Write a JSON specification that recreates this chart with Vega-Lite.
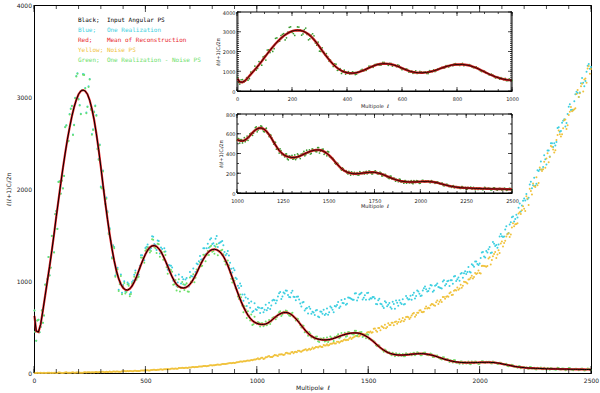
{
"$schema":"https://vega.github.io/schema/vega-lite/v6.json",
"width":557,"height":368,
"autosize":{"type":"none"},
"padding":{"left":34,"top":5,"right":9,"bottom":20},
"background":"white",
"config":{"view":{"stroke":"black","strokeWidth":1},"font":"DejaVu Sans",
"axis":{"labelFont":"DejaVu Sans","labelFontSize":6,"labelColor":"#222","titleFont":"DejaVu Sans","titleFontSize":6,"titleFontWeight":"normal","titleColor":"#222","domainColor":"black","grid":false,"zindex":1,"labelFlush":false,"labelOverlap":false,"format":"d","ticks":false}},
"datasets":{
"t50":[{"t":0},{"t":50},{"t":100},{"t":150},{"t":200},{"t":250},{"t":300},{"t":350},{"t":400},{"t":450},{"t":500},{"t":550},{"t":600},{"t":650},{"t":700},{"t":750},{"t":800},{"t":850},{"t":900},{"t":950},{"t":1000},{"t":1050},{"t":1100},{"t":1150},{"t":1200},{"t":1250},{"t":1300},{"t":1350},{"t":1400},{"t":1450},{"t":1500},{"t":1550},{"t":1600},{"t":1650},{"t":1700},{"t":1750},{"t":1800},{"t":1850},{"t":1900},{"t":1950},{"t":2000},{"t":2050},{"t":2100},{"t":2150},{"t":2200},{"t":2250},{"t":2300},{"t":2350},{"t":2400},{"t":2450},{"t":2500}],
"t100":[{"t":0},{"t":100},{"t":200},{"t":300},{"t":400},{"t":500},{"t":600},{"t":700},{"t":800},{"t":900},{"t":1000},{"t":1100},{"t":1200},{"t":1300},{"t":1400},{"t":1500},{"t":1600},{"t":1700},{"t":1800},{"t":1900},{"t":2000},{"t":2100},{"t":2200},{"t":2300},{"t":2400},{"t":2500},{"t":2600},{"t":2700},{"t":2800},{"t":2900},{"t":3000},{"t":3100},{"t":3200},{"t":3300},{"t":3400},{"t":3500},{"t":3600},{"t":3700},{"t":3800},{"t":3900},{"t":4000}],
"ps":[
{"l":2,"b":620,"c":680,"g":680,"n":2},{"l":10,"b":455,"c":350,"g":350,"n":0},{"l":20,"b":445,"c":580,"g":580,"n":1},{"l":30,"b":530,"c":501,"g":500,"n":3},{"l":40,"b":680,"c":546,"g":545,"n":0},{"l":50,"b":840,"c":961,"g":960,"n":0},{"l":60,"b":1000,"c":1021,"g":1020,"n":4},{"l":70,"b":1160,"c":1062,"g":1060,"n":2},{"l":80,"b":1330,"c":1492,"g":1490,"n":4},{"l":90,"b":1510,"c":1312,"g":1310,"n":3},
{"l":100,"b":1700,"c":1762,"g":1760,"n":0},{"l":110,"b":1880,"c":2078,"g":2076,"n":5},{"l":120,"b":2060,"c":1951,"g":1948,"n":2},{"l":130,"b":2230,"c":2009,"g":2006,"n":0},{"l":140,"b":2390,"c":2673,"g":2670,"n":5},{"l":150,"b":2540,"c":2516,"g":2512,"n":4},{"l":160,"b":2670,"c":2814,"g":2810,"n":3},{"l":170,"b":2790,"c":2906,"g":2902,"n":6},{"l":180,"b":2890,"c":2699,"g":2694,"n":2},{"l":190,"b":2970,"c":3227,"g":3222,"n":6},
{"l":200,"b":3030,"c":2979,"g":2974,"n":7},{"l":210,"b":3065,"c":2818,"g":2813,"n":4},{"l":220,"b":3075,"c":3249,"g":3243,"n":4},{"l":230,"b":3065,"c":3099,"g":3093,"n":9},{"l":240,"b":3030,"c":2897,"g":2890,"n":7},{"l":250,"b":2965,"c":3196,"g":3189,"n":9},{"l":260,"b":2870,"c":2598,"g":2590,"n":9},{"l":270,"b":2750,"c":2842,"g":2834,"n":6},{"l":280,"b":2600,"c":2805,"g":2796,"n":12},{"l":290,"b":2430,"c":2327,"g":2318,"n":8},
{"l":300,"b":2240,"c":2026,"g":2016,"n":7},{"l":310,"b":2040,"c":2201,"g":2190,"n":13},{"l":320,"b":1850,"c":1846,"g":1835,"n":11},{"l":330,"b":1670,"c":1757,"g":1745,"n":10},{"l":340,"b":1500,"c":1573,"g":1560,"n":15},{"l":350,"b":1350,"c":1258,"g":1245,"n":10},{"l":360,"b":1220,"c":1369,"g":1355,"n":15},{"l":370,"b":1110,"c":1095,"g":1080,"n":17},{"l":380,"b":1025,"c":905,"g":890,"n":14},{"l":390,"b":965,"c":1071,"g":1055,"n":14},
{"l":400,"b":925,"c":957,"g":940,"n":20},{"l":410,"b":905,"c":883,"g":865,"n":18},{"l":420,"b":902,"c":985,"g":966,"n":21},{"l":430,"b":915,"c":855,"g":835,"n":21},{"l":440,"b":945,"c":990,"g":969,"n":19},{"l":450,"b":990,"c":1068,"g":1046,"n":25},{"l":460,"b":1045,"c":1036,"g":1013,"n":22},{"l":470,"b":1110,"c":1070,"g":1046,"n":21},{"l":480,"b":1175,"c":1280,"g":1255,"n":27},{"l":490,"b":1235,"c":1253,"g":1227,"n":26},
{"l":500,"b":1290,"c":1358,"g":1330,"n":26},{"l":510,"b":1335,"c":1396,"g":1367,"n":31},{"l":520,"b":1365,"c":1339,"g":1309,"n":27},{"l":530,"b":1382,"c":1486,"g":1454,"n":33},{"l":540,"b":1385,"c":1402,"g":1369,"n":35},{"l":550,"b":1375,"c":1337,"g":1303,"n":33},{"l":560,"b":1352,"c":1436,"g":1400,"n":34},{"l":570,"b":1318,"c":1363,"g":1326,"n":40},{"l":580,"b":1272,"c":1271,"g":1232,"n":39},{"l":590,"b":1218,"c":1322,"g":1282,"n":42},
{"l":600,"b":1160,"c":1122,"g":1080,"n":43},{"l":610,"b":1100,"c":1168,"g":1124,"n":42},{"l":620,"b":1045,"c":1146,"g":1101,"n":48},{"l":630,"b":998,"c":1013,"g":966,"n":46},{"l":640,"b":962,"c":947,"g":898,"n":46},{"l":650,"b":940,"c":1071,"g":1020,"n":53},{"l":660,"b":928,"c":973,"g":920,"n":53},{"l":670,"b":924,"c":1019,"g":964,"n":54},{"l":680,"b":928,"c":1016,"g":960,"n":58},{"l":690,"b":942,"c":944,"g":886,"n":55},
{"l":700,"b":965,"c":1097,"g":1037,"n":61},{"l":710,"b":998,"c":1048,"g":986,"n":64},{"l":720,"b":1040,"c":1050,"g":986,"n":63},{"l":730,"b":1088,"c":1190,"g":1124,"n":64},{"l":740,"b":1140,"c":1215,"g":1146,"n":72},{"l":750,"b":1190,"c":1231,"g":1160,"n":71},{"l":760,"b":1236,"c":1357,"g":1284,"n":75},{"l":770,"b":1276,"c":1292,"g":1216,"n":77},{"l":780,"b":1308,"c":1404,"g":1326,"n":76},{"l":790,"b":1330,"c":1452,"g":1372,"n":83},
{"l":800,"b":1342,"c":1401,"g":1318,"n":82},{"l":810,"b":1345,"c":1383,"g":1297,"n":83},{"l":820,"b":1340,"c":1488,"g":1400,"n":90},{"l":830,"b":1326,"c":1411,"g":1320,"n":91},{"l":840,"b":1302,"c":1426,"g":1332,"n":92},{"l":850,"b":1268,"c":1389,"g":1292,"n":99},{"l":860,"b":1222,"c":1280,"g":1180,"n":97},{"l":870,"b":1168,"c":1325,"g":1222,"n":104},{"l":880,"b":1105,"c":1199,"g":1093,"n":108},{"l":890,"b":1038,"c":1093,"g":984,"n":108},
{"l":900,"b":968,"c":1116,"g":1004,"n":110},{"l":910,"b":900,"c":1021,"g":906,"n":118},{"l":920,"b":835,"c":924,"g":805,"n":119},{"l":930,"b":775,"c":945,"g":823,"n":124},{"l":940,"b":720,"c":786,"g":660,"n":127},{"l":950,"b":672,"c":820,"g":690,"n":128},{"l":960,"b":630,"c":806,"g":672,"n":137},{"l":970,"b":596,"c":710,"g":572,"n":137},{"l":980,"b":570,"c":664,"g":522,"n":139},{"l":990,"b":552,"c":758,"g":612,"n":148},
{"l":1000,"b":540,"c":684,"g":534,"n":151},{"l":1010,"b":532,"c":708,"g":547,"n":149},{"l":1020,"b":528,"c":705,"g":540,"n":167},{"l":1030,"b":528,"c":659,"g":507,"n":153},{"l":1040,"b":533,"c":741,"g":560,"n":171},{"l":1050,"b":544,"c":707,"g":538,"n":179},{"l":1060,"b":560,"c":697,"g":533,"n":173},{"l":1070,"b":580,"c":788,"g":598,"n":173},{"l":1080,"b":601,"c":792,"g":604,"n":196},{"l":1090,"b":621,"c":789,"g":606,"n":189},
{"l":1100,"b":637,"c":868,"g":661,"n":200},{"l":1110,"b":649,"c":803,"g":619,"n":203},{"l":1120,"b":656,"c":874,"g":665,"n":197},{"l":1130,"b":658,"c":898,"g":679,"n":217},{"l":1140,"b":654,"c":849,"g":642,"n":211},{"l":1150,"b":643,"c":824,"g":619,"n":208},{"l":1160,"b":626,"c":893,"g":656,"n":228},{"l":1170,"b":604,"c":826,"g":601,"n":227},{"l":1180,"b":577,"c":830,"g":592,"n":226},{"l":1190,"b":547,"c":800,"g":559,"n":243},
{"l":1200,"b":516,"c":724,"g":495,"n":230},{"l":1210,"b":486,"c":771,"g":513,"n":248},{"l":1220,"b":457,"c":698,"g":451,"n":257},{"l":1230,"b":431,"c":647,"g":404,"n":252},{"l":1240,"b":410,"c":698,"g":428,"n":253},{"l":1250,"b":394,"c":666,"g":397,"n":277},{"l":1260,"b":381,"c":631,"g":366,"n":271},{"l":1270,"b":372,"c":686,"g":396,"n":283},{"l":1280,"b":366,"c":605,"g":336,"n":288},{"l":1290,"b":362,"c":665,"g":371,"n":282},
{"l":1300,"b":360,"c":687,"g":381,"n":304},{"l":1310,"b":360,"c":643,"g":348,"n":299},{"l":1320,"b":362,"c":633,"g":338,"n":298},{"l":1330,"b":366,"c":724,"g":396,"n":319},{"l":1340,"b":372,"c":688,"g":369,"n":321},{"l":1350,"b":380,"c":728,"g":395,"n":321},{"l":1360,"b":389,"c":740,"g":401,"n":341},{"l":1370,"b":398,"c":706,"g":377,"n":330},{"l":1380,"b":407,"c":793,"g":434,"n":349},{"l":1390,"b":415,"c":759,"g":409,"n":360},
{"l":1400,"b":422,"c":742,"g":395,"n":356},{"l":1410,"b":428,"c":822,"g":446,"n":359},{"l":1420,"b":432,"c":812,"g":435,"n":385},{"l":1430,"b":435,"c":796,"g":420,"n":382},{"l":1440,"b":436,"c":863,"g":460,"n":396},{"l":1450,"b":435,"c":789,"g":405,"n":403},{"l":1460,"b":431,"c":852,"g":440,"n":400},{"l":1470,"b":424,"c":871,"g":445,"n":424},{"l":1480,"b":414,"c":819,"g":402,"n":421},{"l":1490,"b":401,"c":796,"g":377,"n":422},
{"l":1500,"b":386,"c":871,"g":416,"n":446},{"l":1510,"b":368,"c":812,"g":366,"n":450},{"l":1520,"b":348,"c":826,"g":357,"n":444},{"l":1530,"b":327,"c":810,"g":334,"n":485},{"l":1540,"b":305,"c":746,"g":292,"n":448},{"l":1550,"b":284,"c":806,"g":300,"n":490},{"l":1560,"b":265,"c":746,"g":261,"n":508},{"l":1570,"b":248,"c":707,"g":232,"n":489},{"l":1580,"b":233,"c":767,"g":244,"n":487},{"l":1590,"b":221,"c":742,"g":223,"n":541},
{"l":1600,"b":212,"c":715,"g":203,"n":523},{"l":1610,"b":205,"c":775,"g":219,"n":546},{"l":1620,"b":200,"c":699,"g":182,"n":554},{"l":1630,"b":197,"c":764,"g":202,"n":535},{"l":1640,"b":195,"c":790,"g":208,"n":585},{"l":1650,"b":195,"c":750,"g":188,"n":568},{"l":1660,"b":196,"c":744,"g":182,"n":562},{"l":1670,"b":198,"c":837,"g":216,"n":609},{"l":1680,"b":200,"c":800,"g":198,"n":606},{"l":1690,"b":203,"c":839,"g":212,"n":602},
{"l":1700,"b":205,"c":848,"g":212,"n":645},{"l":1710,"b":207,"c":811,"g":194,"n":611},{"l":1720,"b":209,"c":897,"g":225,"n":656},{"l":1730,"b":210,"c":861,"g":206,"n":678},{"l":1740,"b":210,"c":842,"g":194,"n":662},{"l":1750,"b":209,"c":921,"g":220,"n":665},{"l":1760,"b":206,"c":909,"g":208,"n":723},{"l":1770,"b":202,"c":891,"g":193,"n":709},{"l":1780,"b":197,"c":957,"g":211,"n":736},{"l":1790,"b":191,"c":883,"g":173,"n":747},
{"l":1800,"b":184,"c":948,"g":189,"n":732},{"l":1810,"b":176,"c":973,"g":189,"n":787},{"l":1820,"b":168,"c":930,"g":161,"n":775},{"l":1830,"b":160,"c":919,"g":146,"n":773},{"l":1840,"b":152,"c":1007,"g":170,"n":825},{"l":1850,"b":145,"c":967,"g":143,"n":828},{"l":1860,"b":138,"c":1002,"g":147,"n":830},{"l":1870,"b":132,"c":1009,"g":139,"n":879},{"l":1880,"b":127,"c":971,"g":114,"n":851},{"l":1890,"b":122,"c":1055,"g":138,"n":901},
{"l":1900,"b":119,"c":1020,"g":115,"n":928},{"l":1910,"b":116,"c":1004,"g":100,"n":918},{"l":1920,"b":114,"c":1088,"g":125,"n":927},{"l":1930,"b":113,"c":1084,"g":115,"n":991},{"l":1940,"b":112,"c":1075,"g":103,"n":983},{"l":1950,"b":112,"c":1153,"g":126,"n":1017},{"l":1960,"b":112,"c":1092,"g":94,"n":1035},{"l":1970,"b":112,"c":1171,"g":117,"n":1027},{"l":1980,"b":113,"c":1211,"g":126,"n":1088},{"l":1990,"b":114,"c":1184,"g":107,"n":1083},
{"l":2000,"b":115,"c":1189,"g":101,"n":1088},{"l":2010,"b":116,"c":1309,"g":128,"n":1163},{"l":2020,"b":116,"c":1267,"g":115,"n":1162},{"l":2030,"b":116,"c":1327,"g":122,"n":1156},{"l":2040,"b":116,"c":1345,"g":121,"n":1245},{"l":2050,"b":115,"c":1303,"g":107,"n":1180},{"l":2060,"b":114,"c":1423,"g":125,"n":1270},{"l":2070,"b":112,"c":1381,"g":110,"n":1316},{"l":2080,"b":109,"c":1362,"g":98,"n":1287},{"l":2090,"b":105,"c":1484,"g":112,"n":1303},
{"l":2100,"b":100,"c":1486,"g":101,"n":1430},{"l":2110,"b":95,"c":1483,"g":89,"n":1413},{"l":2120,"b":90,"c":1596,"g":100,"n":1483},{"l":2130,"b":85,"c":1523,"g":73,"n":1518},{"l":2140,"b":80,"c":1638,"g":84,"n":1505},{"l":2150,"b":75,"c":1700,"g":83,"n":1628},{"l":2160,"b":71,"c":1674,"g":66,"n":1617},{"l":2170,"b":67,"c":1691,"g":57,"n":1627},{"l":2180,"b":64,"c":1842,"g":76,"n":1748},{"l":2190,"b":61,"c":1820,"g":60,"n":1770},
{"l":2200,"b":58,"c":1898,"g":64,"n":1785},{"l":2210,"b":56,"c":1946,"g":61,"n":1922},{"l":2220,"b":54,"c":1904,"g":46,"n":1826},{"l":2230,"b":53,"c":2080,"g":64,"n":1979},{"l":2240,"b":52,"c":2041,"g":50,"n":2061},{"l":2250,"b":51,"c":2034,"g":40,"n":2023},{"l":2260,"b":50,"c":2203,"g":57,"n":2041},{"l":2270,"b":49,"c":2212,"g":50,"n":2235},{"l":2280,"b":48,"c":2213,"g":42,"n":2197},{"l":2290,"b":47,"c":2366,"g":57,"n":2295},
{"l":2300,"b":46,"c":2266,"g":34,"n":2332},{"l":2310,"b":46,"c":2418,"g":50,"n":2292},{"l":2320,"b":45,"c":2497,"g":53,"n":2468},{"l":2330,"b":45,"c":2457,"g":40,"n":2428},{"l":2340,"b":44,"c":2472,"g":34,"n":2420},{"l":2350,"b":44,"c":2664,"g":56,"n":2588},{"l":2360,"b":43,"c":2623,"g":42,"n":2596},{"l":2370,"b":43,"c":2719,"g":49,"n":2596},{"l":2380,"b":42,"c":2758,"g":47,"n":2748},{"l":2390,"b":42,"c":2718,"g":34,"n":2652},
{"l":2400,"b":42,"c":2894,"g":53,"n":2804},{"l":2410,"b":41,"c":2859,"g":39,"n":2890},{"l":2420,"b":41,"c":2857,"g":30,"n":2856},{"l":2430,"b":40,"c":3030,"g":47,"n":2878},{"l":2440,"b":40,"c":3044,"g":41,"n":3076},{"l":2450,"b":40,"c":3050,"g":34,"n":3042},{"l":2460,"b":39,"c":3207,"g":49,"n":3144},{"l":2470,"b":39,"c":3117,"g":27,"n":3190},{"l":2480,"b":38,"c":3274,"g":42,"n":3156},{"l":2490,"b":38,"c":3360,"g":46,"n":3338},
{"l":2500,"b":37,"c":3325,"g":32,"n":3304},
{"l":5,"c":448,"g":448,"n":1},{"l":15,"c":570,"g":570,"n":3},{"l":25,"c":444,"g":443,"n":0},{"l":35,"c":681,"g":680,"n":1},{"l":45,"c":626,"g":625,"n":3},{"l":55,"c":961,"g":960,"n":0},{"l":65,"c":1262,"g":1260,"n":3},{"l":75,"c":1147,"g":1145,"n":1},{"l":85,"c":1422,"g":1420,"n":0},{"l":95,"c":1727,"g":1725,"n":4},
{"l":105,"c":1568,"g":1566,"n":1},{"l":115,"c":2085,"g":2082,"n":5},{"l":125,"c":2092,"g":2089,"n":0},{"l":135,"c":2145,"g":2142,"n":4},{"l":145,"c":2693,"g":2689,"n":7},{"l":155,"c":2525,"g":2521,"n":3},{"l":165,"c":2874,"g":2870,"n":4},{"l":175,"c":2593,"g":2588,"n":7},{"l":185,"c":2991,"g":2986,"n":3},{"l":195,"c":3257,"g":3252,"n":6},
{"l":205,"c":2913,"g":2908,"n":4},{"l":215,"c":3076,"g":3070,"n":4},{"l":225,"c":3244,"g":3238,"n":8},{"l":235,"c":2831,"g":2824,"n":6},{"l":245,"c":3117,"g":3110,"n":9},{"l":255,"c":2870,"g":2862,"n":5},{"l":265,"c":2650,"g":2642,"n":9},{"l":275,"c":2908,"g":2899,"n":12},{"l":285,"c":2440,"g":2431,"n":8},{"l":295,"c":2485,"g":2475,"n":10},
{"l":305,"c":2016,"g":2005,"n":13},{"l":315,"c":1986,"g":1975,"n":9},{"l":325,"c":1907,"g":1895,"n":13},{"l":335,"c":1523,"g":1510,"n":12},{"l":345,"c":1438,"g":1425,"n":11},{"l":355,"c":1389,"g":1375,"n":16},{"l":365,"c":1060,"g":1045,"n":14},{"l":375,"c":1143,"g":1128,"n":17},{"l":385,"c":981,"g":965,"n":13},{"l":395,"c":872,"g":855,"n":18},
{"l":405,"c":997,"g":979,"n":21},{"l":415,"c":899,"g":880,"n":18},{"l":425,"c":968,"g":948,"n":20},{"l":435,"c":879,"g":858,"n":23},{"l":445,"c":1006,"g":984,"n":20},{"l":455,"c":1113,"g":1090,"n":24},{"l":465,"c":1062,"g":1038,"n":23},{"l":475,"c":1167,"g":1142,"n":23},{"l":485,"c":1279,"g":1253,"n":28},{"l":495,"c":1225,"g":1198,"n":26},
{"l":505,"c":1373,"g":1344,"n":30},{"l":515,"c":1364,"g":1334,"n":27},{"l":525,"c":1357,"g":1326,"n":32},{"l":535,"c":1481,"g":1448,"n":36},{"l":545,"c":1390,"g":1356,"n":32},{"l":555,"c":1439,"g":1404,"n":35},{"l":565,"c":1300,"g":1263,"n":39},{"l":575,"c":1349,"g":1311,"n":36},{"l":585,"c":1357,"g":1317,"n":41},{"l":595,"c":1190,"g":1149,"n":40},
{"l":605,"c":1173,"g":1130,"n":41},{"l":615,"c":1165,"g":1120,"n":47},{"l":625,"c":1004,"g":958,"n":45},{"l":635,"c":1060,"g":1012,"n":50},{"l":645,"c":985,"g":935,"n":47},{"l":655,"c":938,"g":886,"n":53},{"l":665,"c":1044,"g":990,"n":57},{"l":675,"c":958,"g":902,"n":55},{"l":685,"c":1032,"g":975,"n":57},{"l":695,"c":941,"g":882,"n":61},
{"l":705,"c":1055,"g":994,"n":59},{"l":715,"c":1136,"g":1073,"n":64},{"l":725,"c":1099,"g":1034,"n":64},{"l":735,"c":1182,"g":1114,"n":66},{"l":745,"c":1271,"g":1201,"n":72},{"l":755,"c":1237,"g":1165,"n":71},{"l":765,"c":1355,"g":1280,"n":77},{"l":775,"c":1357,"g":1280,"n":74},{"l":785,"c":1362,"g":1283,"n":80},{"l":795,"c":1466,"g":1384,"n":85},
{"l":805,"c":1411,"g":1326,"n":83},{"l":815,"c":1460,"g":1373,"n":87},{"l":825,"c":1369,"g":1279,"n":92},{"l":835,"c":1419,"g":1326,"n":91},{"l":845,"c":1435,"g":1339,"n":97},{"l":855,"c":1314,"g":1215,"n":98},{"l":865,"c":1297,"g":1195,"n":100},{"l":875,"c":1277,"g":1172,"n":107},{"l":885,"c":1132,"g":1024,"n":107},{"l":895,"c":1138,"g":1027,"n":112},
{"l":905,"c":1036,"g":922,"n":111},{"l":915,"c":949,"g":832,"n":118},{"l":925,"c":974,"g":853,"n":124},{"l":935,"c":854,"g":730,"n":122},{"l":945,"c":854,"g":726,"n":128},{"l":955,"c":729,"g":597,"n":134},{"l":965,"c":761,"g":625,"n":134},{"l":975,"c":777,"g":637,"n":141},{"l":985,"c":675,"g":531,"n":143},{"l":995,"c":694,"g":546,"n":146},
{"l":1005,"c":715,"g":554,"n":160},{"l":1015,"c":651,"g":506,"n":154},{"l":1025,"c":707,"g":540,"n":166},{"l":1035,"c":687,"g":524,"n":157},{"l":1045,"c":681,"g":520,"n":172},{"l":1055,"c":763,"g":576,"n":184},{"l":1065,"c":735,"g":561,"n":174},{"l":1075,"c":796,"g":605,"n":184},{"l":1085,"c":759,"g":584,"n":194},{"l":1095,"c":831,"g":635,"n":185},
{"l":1105,"c":880,"g":670,"n":201},{"l":1115,"c":832,"g":637,"n":200},{"l":1125,"c":863,"g":657,"n":200},{"l":1135,"c":894,"g":674,"n":219},{"l":1145,"c":827,"g":624,"n":212},{"l":1155,"c":872,"g":646,"n":225},{"l":1165,"c":830,"g":609,"n":215},{"l":1175,"c":792,"g":572,"n":231},{"l":1185,"c":831,"g":586,"n":242},{"l":1195,"c":755,"g":522,"n":233},
{"l":1205,"c":766,"g":516,"n":243},{"l":1215,"c":679,"g":444,"n":254},{"l":1225,"c":706,"g":450,"n":245},{"l":1235,"c":719,"g":447,"n":263},{"l":1245,"c":644,"g":387,"n":262},{"l":1255,"c":657,"g":387,"n":264},{"l":1265,"c":678,"g":394,"n":283},{"l":1275,"c":614,"g":345,"n":278},{"l":1285,"c":669,"g":376,"n":292},{"l":1295,"c":644,"g":355,"n":283},
{"l":1305,"c":631,"g":342,"n":300},{"l":1315,"c":701,"g":385,"n":313},{"l":1325,"c":660,"g":355,"n":305},{"l":1335,"c":708,"g":384,"n":317},{"l":1345,"c":659,"g":349,"n":329},{"l":1355,"c":724,"g":391,"n":322},{"l":1365,"c":771,"g":421,"n":341},{"l":1375,"c":724,"g":388,"n":341},{"l":1385,"c":761,"g":411,"n":344},{"l":1395,"c":803,"g":437,"n":365},
{"l":1405,"c":753,"g":401,"n":361},{"l":1415,"c":819,"g":442,"n":376},{"l":1425,"c":804,"g":428,"n":370},{"l":1435,"c":796,"g":418,"n":389},{"l":1445,"c":867,"g":460,"n":404},{"l":1455,"c":822,"g":424,"n":398},{"l":1465,"c":861,"g":443,"n":411},{"l":1475,"c":798,"g":392,"n":425},{"l":1485,"c":844,"g":414,"n":419},{"l":1495,"c":870,"g":421,"n":440},
{"l":1505,"c":799,"g":368,"n":439},{"l":1515,"c":810,"g":358,"n":437},{"l":1525,"c":826,"g":349,"n":481},{"l":1535,"c":749,"g":302,"n":461},{"l":1545,"c":791,"g":302,"n":490},{"l":1555,"c":752,"g":271,"n":464},{"l":1565,"c":725,"g":246,"n":500},{"l":1575,"c":780,"g":255,"n":525},{"l":1585,"c":725,"g":222,"n":500},{"l":1595,"c":760,"g":226,"n":521},
{"l":1605,"c":699,"g":193,"n":545},{"l":1615,"c":751,"g":207,"n":519},{"l":1625,"c":788,"g":215,"n":559},{"l":1635,"c":732,"g":187,"n":553},{"l":1645,"c":763,"g":195,"n":553},{"l":1655,"c":802,"g":207,"n":599},{"l":1665,"c":750,"g":183,"n":581},{"l":1675,"c":816,"g":206,"n":611},{"l":1685,"c":802,"g":198,"n":587},{"l":1695,"c":797,"g":193,"n":625},
{"l":1705,"c":873,"g":220,"n":653},{"l":1715,"c":836,"g":203,"n":630},{"l":1725,"c":886,"g":219,"n":654},{"l":1735,"c":836,"g":194,"n":681},{"l":1745,"c":898,"g":214,"n":659},{"l":1755,"c":940,"g":224,"n":702},{"l":1765,"c":887,"g":195,"n":700},{"l":1775,"c":918,"g":200,"n":703},{"l":1785,"c":952,"g":205,"n":751},{"l":1795,"c":896,"g":174,"n":736},
{"l":1805,"c":956,"g":187,"n":770},{"l":1815,"c":936,"g":168,"n":751},{"l":1825,"c":925,"g":153,"n":793},{"l":1835,"c":995,"g":170,"n":825},{"l":1845,"c":952,"g":143,"n":806},{"l":1855,"c":998,"g":151,"n":834},{"l":1865,"c":946,"g":119,"n":866},{"l":1875,"c":1007,"g":134,"n":848},{"l":1885,"c":1049,"g":140,"n":895},{"l":1895,"c":1000,"g":111,"n":897},
{"l":1905,"c":1037,"g":118,"n":904},{"l":1915,"c":1080,"g":126,"n":958},{"l":1925,"c":1035,"g":100,"n":949},{"l":1935,"c":1106,"g":119,"n":988},{"l":1945,"c":1098,"g":108,"n":973},{"l":1955,"c":1100,"g":101,"n":1020},{"l":1965,"c":1183,"g":126,"n":1057},{"l":1975,"c":1154,"g":107,"n":1044},{"l":1985,"c":1213,"g":123,"n":1077},{"l":1995,"c":1173,"g":98,"n":1114},
{"l":2005,"c":1250,"g":118,"n":1082},{"l":2015,"c":1315,"g":127,"n":1165},{"l":2025,"c":1255,"g":110,"n":1159},{"l":2035,"c":1309,"g":116,"n":1163},{"l":2045,"c":1370,"g":123,"n":1258},{"l":2055,"c":1309,"g":104,"n":1228},{"l":2065,"c":1405,"g":118,"n":1293},{"l":2075,"c":1392,"g":108,"n":1249},{"l":2085,"c":1396,"g":100,"n":1335},{"l":2095,"c":1512,"g":112,"n":1407},
{"l":2105,"c":1479,"g":94,"n":1374},{"l":2115,"c":1560,"g":98,"n":1438},{"l":2125,"c":1512,"g":77,"n":1508},{"l":2135,"c":1613,"g":84,"n":1479},{"l":2145,"c":1694,"g":89,"n":1582},{"l":2155,"c":1648,"g":67,"n":1595},{"l":2165,"c":1719,"g":69,"n":1620},{"l":2175,"c":1797,"g":73,"n":1735},{"l":2185,"c":1756,"g":52,"n":1727},{"l":2195,"c":1872,"g":65,"n":1813},
{"l":2205,"c":1875,"g":55,"n":1762},{"l":2215,"c":1889,"g":48,"n":1898},{"l":2225,"c":2049,"g":64,"n":2003},{"l":2235,"c":2008,"g":48,"n":1940},{"l":2245,"c":2122,"g":58,"n":2030},{"l":2255,"c":2058,"g":39,"n":2128},{"l":2265,"c":2196,"g":52,"n":2066},{"l":2275,"c":2300,"g":59,"n":2212},{"l":2285,"c":2238,"g":42,"n":2214},{"l":2295,"c":2324,"g":46,"n":2230},
{"l":2305,"c":2418,"g":53,"n":2388},{"l":2315,"c":2354,"g":36,"n":2348},{"l":2325,"c":2497,"g":50,"n":2460},{"l":2335,"c":2496,"g":42,"n":2396},{"l":2345,"c":2512,"g":37,"n":2532},{"l":2355,"c":2672,"g":54,"n":2636},{"l":2365,"c":2631,"g":39,"n":2572},{"l":2375,"c":2742,"g":48,"n":2660},{"l":2385,"c":2678,"g":31,"n":2756},{"l":2395,"c":2814,"g":44,"n":2692},
{"l":2405,"c":2921,"g":53,"n":2839},{"l":2415,"c":2862,"g":35,"n":2845},{"l":2425,"c":2955,"g":40,"n":2867},{"l":2435,"c":3057,"g":47,"n":3033},{"l":2445,"c":2999,"g":30,"n":2999},{"l":2455,"c":3149,"g":45,"n":3117},{"l":2465,"c":3154,"g":37,"n":3059},{"l":2475,"c":3175,"g":31,"n":3201},{"l":2485,"c":3341,"g":48,"n":3311},{"l":2495,"c":3307,"g":34,"n":3253}
]},
"layer":[
{"encoding":{"x":{"field":"l","type":"quantitative","title":"Multipole\u00a0\u00a0ℓ","scale":{"domain":[0,2500],"nice":false,"zero":false},
   "axis":{"orient":"bottom","values":[0,500,1000,1500,2000,2500],"labelPadding":4,"labelOverlap":false,"titlePadding":1}}},
 "layer":[
  {"data":{"name":"ps"},"mark":{"type":"circle","size":4,"opacity":1},
   "encoding":{"y":{"field":"c","type":"quantitative","title":"ℓ(ℓ+1)Cₗ/2π","scale":{"domain":[0,4000],"nice":false},
      "axis":{"orient":"left","values":[0,1000,2000,3000,4000],"labelPadding":2.5,"labelOverlap":false,"titlePadding":5}},
     "color":{"datum":"Blue;\u00a0\u00a0\u00a0One Realization","type":"nominal",
       "scale":{"domain":["Black;\u00a0\u00a0Input Angular PS","Blue;\u00a0\u00a0\u00a0One Realization","Red;\u00a0\u00a0\u00a0\u00a0Mean of Reconstruction","Yellow;\u00a0Noise PS","Green;\u00a0\u00a0One Realization - Noise PS"],
                "range":["#000000","#3ccfe0","#e8262a","#f0c23c","#6ee06a"]},
       "legend":{"orient":"none","legendX":38,"legendY":12,"title":null,"symbolSize":0,"symbolOpacity":0,"symbolStrokeWidth":0,"labelFont":"DejaVu Sans Mono","labelFontSize":6,"labelOffset":0,"rowPadding":3.9,"padding":0,"labelLimit":300,
         "encode":{"labels":{"update":{"fill":{"scale":"color","field":"value"}}}}}}}},
  {"data":{"name":"ps"},"mark":{"type":"circle","size":4,"opacity":1},
   "encoding":{"y":{"field":"n","type":"quantitative","title":"ℓ(ℓ+1)Cₗ/2π","scale":{"domain":[0,4000],"nice":false}},
     "color":{"datum":"Yellow;\u00a0Noise PS","type":"nominal"}}},
  {"data":{"name":"ps"},"mark":{"type":"circle","size":4,"opacity":1},
   "encoding":{"y":{"field":"g","type":"quantitative","title":"ℓ(ℓ+1)Cₗ/2π","scale":{"domain":[0,4000],"nice":false}},
     "color":{"datum":"Green;\u00a0\u00a0One Realization - Noise PS","type":"nominal"}}},
  {"data":{"name":"ps"},"transform":[{"filter":"isValid(datum.b)"}],"mark":{"type":"line","strokeWidth":2.2},
   "encoding":{"y":{"field":"b","type":"quantitative","title":"ℓ(ℓ+1)Cₗ/2π","scale":{"domain":[0,4000],"nice":false}},
     "color":{"datum":"Red;\u00a0\u00a0\u00a0\u00a0Mean of Reconstruction","type":"nominal"}}},
  {"data":{"name":"ps"},"transform":[{"filter":"isValid(datum.b)"}],"mark":{"type":"line","strokeWidth":1},
   "encoding":{"y":{"field":"b","type":"quantitative","title":"ℓ(ℓ+1)Cₗ/2π","scale":{"domain":[0,4000],"nice":false}},
     "color":{"datum":"Black;\u00a0\u00a0Input Angular PS","type":"nominal"}}},
  {"data":{"name":"t50"},"transform":[{"filter":"datum.t % 100 === 0"}],"mark":{"type":"tick","orient":"vertical","color":"black","size":4,"thickness":1,"yOffset":-2},
   "encoding":{"x":{"field":"t","type":"quantitative","title":"Multipole\u00a0\u00a0ℓ"},"y":{"datum":0,"type":"quantitative","title":"ℓ(ℓ+1)Cₗ/2π"}}},
  {"data":{"name":"t50"},"transform":[{"filter":"datum.t % 500 === 0"}],"mark":{"type":"tick","orient":"vertical","color":"black","size":7,"thickness":1,"yOffset":-3.5},
   "encoding":{"x":{"field":"t","type":"quantitative","title":"Multipole\u00a0\u00a0ℓ"},"y":{"datum":0,"type":"quantitative","title":"ℓ(ℓ+1)Cₗ/2π"}}},
  {"data":{"name":"t50"},"transform":[{"filter":"datum.t % 100 === 0"}],"mark":{"type":"tick","orient":"vertical","color":"black","size":4,"thickness":1,"yOffset":2},
   "encoding":{"x":{"field":"t","type":"quantitative","title":"Multipole\u00a0\u00a0ℓ"},"y":{"datum":4000,"type":"quantitative","title":"ℓ(ℓ+1)Cₗ/2π"}}},
  {"data":{"name":"t50"},"transform":[{"filter":"datum.t % 500 === 0"}],"mark":{"type":"tick","orient":"vertical","color":"black","size":7,"thickness":1,"yOffset":3.5},
   "encoding":{"x":{"field":"t","type":"quantitative","title":"Multipole\u00a0\u00a0ℓ"},"y":{"datum":4000,"type":"quantitative","title":"ℓ(ℓ+1)Cₗ/2π"}}},
  {"data":{"name":"t100"},"mark":{"type":"tick","orient":"horizontal","color":"black","size":4,"thickness":1,"xOffset":2},
   "encoding":{"y":{"field":"t","type":"quantitative","title":"ℓ(ℓ+1)Cₗ/2π"},"x":{"datum":0,"type":"quantitative","title":"Multipole\u00a0\u00a0ℓ"}}},
  {"data":{"name":"t100"},"transform":[{"filter":"datum.t % 1000 === 0"}],"mark":{"type":"tick","orient":"horizontal","color":"black","size":7,"thickness":1,"xOffset":3.5},
   "encoding":{"y":{"field":"t","type":"quantitative","title":"ℓ(ℓ+1)Cₗ/2π"},"x":{"datum":0,"type":"quantitative","title":"Multipole\u00a0\u00a0ℓ"}}},
  {"data":{"name":"t100"},"mark":{"type":"tick","orient":"horizontal","color":"black","size":4,"thickness":1,"xOffset":-2},
   "encoding":{"y":{"field":"t","type":"quantitative","title":"ℓ(ℓ+1)Cₗ/2π"},"x":{"datum":2500,"type":"quantitative","title":"Multipole\u00a0\u00a0ℓ"}}},
  {"data":{"name":"t100"},"transform":[{"filter":"datum.t % 1000 === 0"}],"mark":{"type":"tick","orient":"horizontal","color":"black","size":7,"thickness":1,"xOffset":-3.5},
   "encoding":{"y":{"field":"t","type":"quantitative","title":"ℓ(ℓ+1)Cₗ/2π"},"x":{"datum":2500,"type":"quantitative","title":"Multipole\u00a0\u00a0ℓ"}}}
 ]},
{"encoding":{
   "x":{"type":"quantitative","title":"Multipole\u00a0\u00a0ℓ","scale":{"domain":[0,1000],"range":[203,478],"nice":false,"zero":false}},
   "y":{"type":"quantitative","title":"ℓ(ℓ+1)Cₗ/2π","scale":{"domain":[0,4000],"range":[86,7],"nice":false}}},
 "layer":[
  {"data":{"values":[{}]},
   "mark":{"type":"rect","fill":"white","stroke":"black","strokeWidth":1},
   "encoding":{
    "x":{"datum":0,"type":"quantitative","title":"Multipole\u00a0\u00a0ℓ","scale":{"domain":[0,1000],"range":[203,478],"nice":false,"zero":false},
      "axis":{"orient":"bottom","offset":-282,"values":[0,200,400,600,800,1000],"labelPadding":5.5,"labelOverlap":false,"labelFontSize":5,"titleFontSize":5,"titlePadding":2}},
    "x2":{"datum":1000},
    "y":{"datum":0,"type":"quantitative","title":"ℓ(ℓ+1)Cₗ/2π","scale":{"domain":[0,4000],"range":[86,7],"nice":false},
      "axis":{"orient":"left","offset":-203,"values":[0,1000,2000,3000,4000],"labelPadding":2,"labelOverlap":false,"labelFontSize":5,"titleFontSize":5,"titlePadding":2}},
    "y2":{"datum":4000}}},
  {"data":{"name":"ps"},"transform":[{"filter":"datum.l <= 1000"}],
   "mark":{"type":"circle","size":3,"color":"#3a9a30","opacity":1},
   "encoding":{"x":{"field":"l","type":"quantitative","title":"Multipole\u00a0\u00a0ℓ"},"y":{"field":"g","type":"quantitative","title":"ℓ(ℓ+1)Cₗ/2π"}}},
  {"data":{"name":"ps"},"transform":[{"filter":"datum.l <= 1000 && isValid(datum.b)"}],
   "mark":{"type":"line","strokeWidth":2.4,"color":"#d42020"},
   "encoding":{"x":{"field":"l","type":"quantitative","title":"Multipole\u00a0\u00a0ℓ"},"y":{"field":"b","type":"quantitative","title":"ℓ(ℓ+1)Cₗ/2π"}}},
  {"data":{"name":"ps"},"transform":[{"filter":"datum.l <= 1000 && isValid(datum.b)"}],
   "mark":{"type":"line","strokeWidth":0.8,"color":"#000000"},
   "encoding":{"x":{"field":"l","type":"quantitative","title":"Multipole\u00a0\u00a0ℓ"},"y":{"field":"b","type":"quantitative","title":"ℓ(ℓ+1)Cₗ/2π"}}},
  {"data":{"name":"t50"},"transform":[{"filter":"datum.t <= 1000"}],"mark":{"type":"tick","orient":"vertical","color":"black","size":2,"thickness":1,"yOffset":-1},
   "encoding":{"x":{"field":"t","type":"quantitative","title":"Multipole\u00a0\u00a0ℓ"},"y":{"datum":0,"type":"quantitative","title":"ℓ(ℓ+1)Cₗ/2π"}}},
  {"data":{"name":"t50"},"transform":[{"filter":"datum.t <= 1000 && datum.t % 200 === 0"}],"mark":{"type":"tick","orient":"vertical","color":"black","size":4,"thickness":1,"yOffset":-2},
   "encoding":{"x":{"field":"t","type":"quantitative","title":"Multipole\u00a0\u00a0ℓ"},"y":{"datum":0,"type":"quantitative","title":"ℓ(ℓ+1)Cₗ/2π"}}},
  {"data":{"name":"t50"},"transform":[{"filter":"datum.t <= 1000"}],"mark":{"type":"tick","orient":"vertical","color":"black","size":2,"thickness":1,"yOffset":1},
   "encoding":{"x":{"field":"t","type":"quantitative","title":"Multipole\u00a0\u00a0ℓ"},"y":{"datum":4000,"type":"quantitative","title":"ℓ(ℓ+1)Cₗ/2π"}}},
  {"data":{"name":"t50"},"transform":[{"filter":"datum.t <= 1000 && datum.t % 200 === 0"}],"mark":{"type":"tick","orient":"vertical","color":"black","size":4,"thickness":1,"yOffset":2},
   "encoding":{"x":{"field":"t","type":"quantitative","title":"Multipole\u00a0\u00a0ℓ"},"y":{"datum":4000,"type":"quantitative","title":"ℓ(ℓ+1)Cₗ/2π"}}},
  {"data":{"name":"t100"},"mark":{"type":"tick","orient":"horizontal","color":"black","size":2,"thickness":1,"xOffset":1},
   "encoding":{"y":{"field":"t","type":"quantitative","title":"ℓ(ℓ+1)Cₗ/2π"},"x":{"datum":0,"type":"quantitative","title":"Multipole\u00a0\u00a0ℓ"}}},
  {"data":{"name":"t100"},"transform":[{"filter":"datum.t % 1000 === 0"}],"mark":{"type":"tick","orient":"horizontal","color":"black","size":4,"thickness":1,"xOffset":2},
   "encoding":{"y":{"field":"t","type":"quantitative","title":"ℓ(ℓ+1)Cₗ/2π"},"x":{"datum":0,"type":"quantitative","title":"Multipole\u00a0\u00a0ℓ"}}},
  {"data":{"name":"t100"},"mark":{"type":"tick","orient":"horizontal","color":"black","size":2,"thickness":1,"xOffset":-1},
   "encoding":{"y":{"field":"t","type":"quantitative","title":"ℓ(ℓ+1)Cₗ/2π"},"x":{"datum":1000,"type":"quantitative","title":"Multipole\u00a0\u00a0ℓ"}}},
  {"data":{"name":"t100"},"transform":[{"filter":"datum.t % 1000 === 0"}],"mark":{"type":"tick","orient":"horizontal","color":"black","size":4,"thickness":1,"xOffset":-2},
   "encoding":{"y":{"field":"t","type":"quantitative","title":"ℓ(ℓ+1)Cₗ/2π"},"x":{"datum":1000,"type":"quantitative","title":"Multipole\u00a0\u00a0ℓ"}}}
 ]},
{"encoding":{
   "x":{"type":"quantitative","title":"Multipole\u00a0\u00a0ℓ","scale":{"domain":[1000,2500],"range":[203,478],"nice":false,"zero":false}},
   "y":{"type":"quantitative","title":"ℓ(ℓ+1)Cₗ/2π","scale":{"domain":[0,800],"range":[188,109],"nice":false}}},
 "layer":[
  {"data":{"values":[{}]},
   "mark":{"type":"rect","fill":"white","stroke":"black","strokeWidth":1},
   "encoding":{
    "x":{"datum":1000,"type":"quantitative","title":"Multipole\u00a0\u00a0ℓ","scale":{"domain":[1000,2500],"range":[203,478],"nice":false,"zero":false},
      "axis":{"orient":"bottom","offset":-180,"values":[1000,1250,1500,1750,2000,2250,2500],"labelPadding":5,"labelOverlap":false,"labelFontSize":5,"titleFontSize":5,"titlePadding":0}},
    "x2":{"datum":2500},
    "y":{"datum":0,"type":"quantitative","title":"ℓ(ℓ+1)Cₗ/2π","scale":{"domain":[0,800],"range":[188,109],"nice":false},
      "axis":{"orient":"left","offset":-203,"values":[0,200,400,600,800],"labelPadding":2,"labelOverlap":false,"labelFontSize":5,"titleFontSize":5,"titlePadding":2}},
    "y2":{"datum":800}}},
  {"data":{"name":"ps"},"transform":[{"filter":"datum.l >= 1000"}],
   "mark":{"type":"circle","size":3,"color":"#3a9a30","opacity":1},
   "encoding":{"x":{"field":"l","type":"quantitative","title":"Multipole\u00a0\u00a0ℓ"},"y":{"field":"g","type":"quantitative","title":"ℓ(ℓ+1)Cₗ/2π"}}},
  {"data":{"name":"ps"},"transform":[{"filter":"datum.l >= 1000 && isValid(datum.b)"}],
   "mark":{"type":"line","strokeWidth":2.4,"color":"#d42020"},
   "encoding":{"x":{"field":"l","type":"quantitative","title":"Multipole\u00a0\u00a0ℓ"},"y":{"field":"b","type":"quantitative","title":"ℓ(ℓ+1)Cₗ/2π"}}},
  {"data":{"name":"ps"},"transform":[{"filter":"datum.l >= 1000 && isValid(datum.b)"}],
   "mark":{"type":"line","strokeWidth":0.8,"color":"#000000"},
   "encoding":{"x":{"field":"l","type":"quantitative","title":"Multipole\u00a0\u00a0ℓ"},"y":{"field":"b","type":"quantitative","title":"ℓ(ℓ+1)Cₗ/2π"}}},
  {"data":{"name":"t50"},"transform":[{"filter":"datum.t >= 1000"}],"mark":{"type":"tick","orient":"vertical","color":"black","size":2,"thickness":1,"yOffset":-1},
   "encoding":{"x":{"field":"t","type":"quantitative","title":"Multipole\u00a0\u00a0ℓ"},"y":{"datum":0,"type":"quantitative","title":"ℓ(ℓ+1)Cₗ/2π"}}},
  {"data":{"name":"t50"},"transform":[{"filter":"datum.t >= 1000 && datum.t % 250 === 0"}],"mark":{"type":"tick","orient":"vertical","color":"black","size":4,"thickness":1,"yOffset":-2},
   "encoding":{"x":{"field":"t","type":"quantitative","title":"Multipole\u00a0\u00a0ℓ"},"y":{"datum":0,"type":"quantitative","title":"ℓ(ℓ+1)Cₗ/2π"}}},
  {"data":{"name":"t50"},"transform":[{"filter":"datum.t >= 1000"}],"mark":{"type":"tick","orient":"vertical","color":"black","size":2,"thickness":1,"yOffset":1},
   "encoding":{"x":{"field":"t","type":"quantitative","title":"Multipole\u00a0\u00a0ℓ"},"y":{"datum":800,"type":"quantitative","title":"ℓ(ℓ+1)Cₗ/2π"}}},
  {"data":{"name":"t50"},"transform":[{"filter":"datum.t >= 1000 && datum.t % 250 === 0"}],"mark":{"type":"tick","orient":"vertical","color":"black","size":4,"thickness":1,"yOffset":2},
   "encoding":{"x":{"field":"t","type":"quantitative","title":"Multipole\u00a0\u00a0ℓ"},"y":{"datum":800,"type":"quantitative","title":"ℓ(ℓ+1)Cₗ/2π"}}},
  {"data":{"name":"t100"},"transform":[{"filter":"datum.t <= 800"}],"mark":{"type":"tick","orient":"horizontal","color":"black","size":2,"thickness":1,"xOffset":1},
   "encoding":{"y":{"field":"t","type":"quantitative","title":"ℓ(ℓ+1)Cₗ/2π"},"x":{"datum":1000,"type":"quantitative","title":"Multipole\u00a0\u00a0ℓ"}}},
  {"data":{"name":"t100"},"transform":[{"filter":"datum.t <= 800 && datum.t % 200 === 0"}],"mark":{"type":"tick","orient":"horizontal","color":"black","size":4,"thickness":1,"xOffset":2},
   "encoding":{"y":{"field":"t","type":"quantitative","title":"ℓ(ℓ+1)Cₗ/2π"},"x":{"datum":1000,"type":"quantitative","title":"Multipole\u00a0\u00a0ℓ"}}},
  {"data":{"name":"t100"},"transform":[{"filter":"datum.t <= 800"}],"mark":{"type":"tick","orient":"horizontal","color":"black","size":2,"thickness":1,"xOffset":-1},
   "encoding":{"y":{"field":"t","type":"quantitative","title":"ℓ(ℓ+1)Cₗ/2π"},"x":{"datum":2500,"type":"quantitative","title":"Multipole\u00a0\u00a0ℓ"}}},
  {"data":{"name":"t100"},"transform":[{"filter":"datum.t <= 800 && datum.t % 200 === 0"}],"mark":{"type":"tick","orient":"horizontal","color":"black","size":4,"thickness":1,"xOffset":-2},
   "encoding":{"y":{"field":"t","type":"quantitative","title":"ℓ(ℓ+1)Cₗ/2π"},"x":{"datum":2500,"type":"quantitative","title":"Multipole\u00a0\u00a0ℓ"}}}
 ]}
],
"resolve":{"scale":{"x":"independent","y":"independent"},"axis":{"x":"independent","y":"independent"}}
}
